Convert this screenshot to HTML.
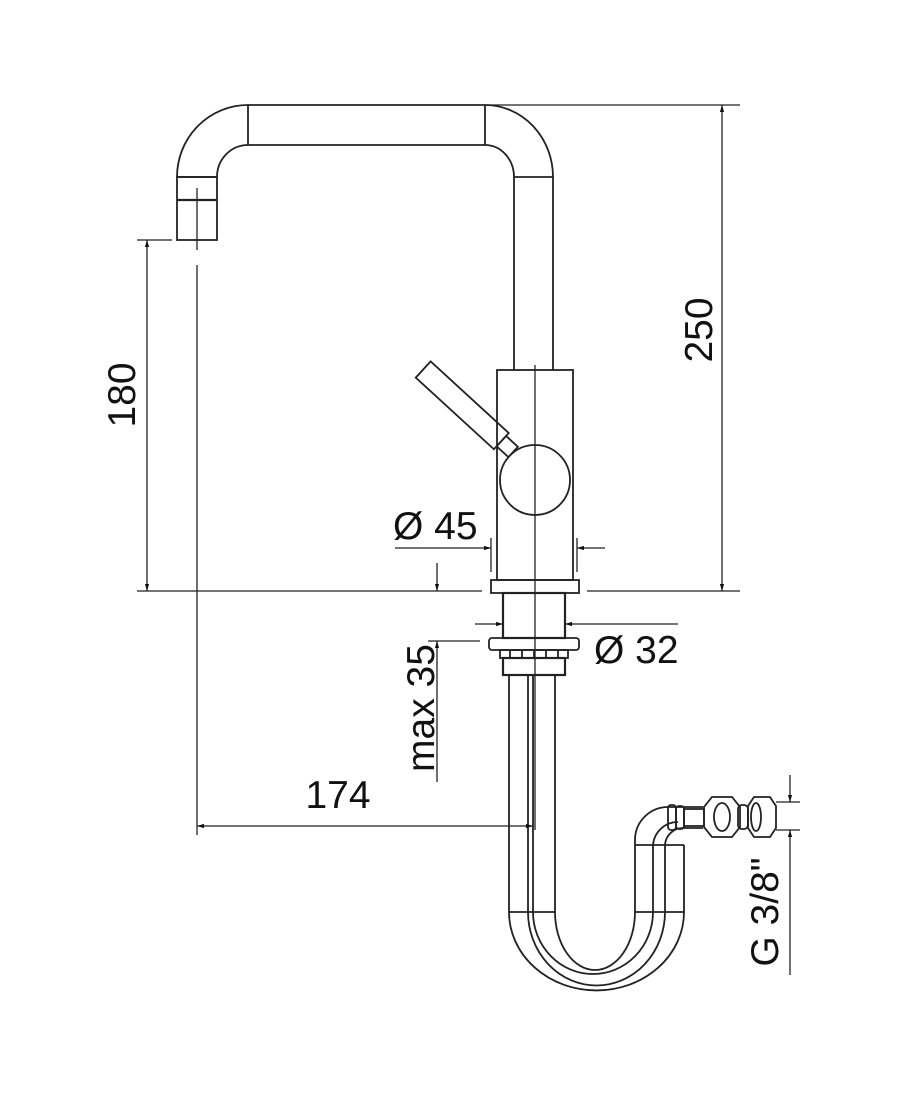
<!DOCTYPE html>
<html><head><meta charset="utf-8"><style>
html,body{margin:0;padding:0;background:#fff;}
svg{display:block}
text{font-family:"Liberation Sans",sans-serif;fill:#111}
</style></head><body>
<svg width="900" height="1100" viewBox="0 0 900 1100" xmlns="http://www.w3.org/2000/svg">
<defs>
<marker id="a" viewBox="0 0 10 10" refX="10" refY="5" markerWidth="9" markerHeight="7" orient="auto-start-reverse" markerUnits="userSpaceOnUse"><path d="M0,2 L10,5 L0,8 z" fill="#111"/></marker>
</defs>
<g fill="none" stroke="#222" stroke-width="1.8">
<path d="M177,177 A71,72 0 0 1 248,105 L485,105 A68,72 0 0 1 553,177 L553,370"/>
<path d="M217,177 A31,32 0 0 1 248,145 L485,145 A29,32 0 0 1 514,177 L514,370"/>
<line x1="248" y1="105" x2="248" y2="145"/>
<line x1="485" y1="105" x2="485" y2="145"/>
<line x1="177" y1="177" x2="217" y2="177"/>
<line x1="514" y1="177" x2="553" y2="177"/>
<rect x="177" y="177" width="40" height="63"/>
<line x1="177" y1="200" x2="217" y2="200" stroke-width="2.2"/>
<rect x="497" y="370" width="76" height="210"/>
<circle cx="535" cy="480" r="35"/>
<g transform="translate(463,406) rotate(42.5)">
<rect x="-54" y="-11" width="106" height="22"/>
<rect x="52" y="-7" width="16" height="14"/>
</g>
<rect x="491" y="580" width="88" height="13"/>
<rect x="503" y="593" width="62" height="45" stroke-width="2.2"/>
<rect x="489" y="638" width="90" height="12" rx="3"/>
<rect x="500" y="650" width="68" height="8"/>
<path d="M510,650v8M522,650v8M534,650v8M546,650v8M558,650v8"/>
<rect x="503" y="658" width="62" height="17" stroke-width="2.2"/>
<path d="M509,675 L509,912 A87,78 0 0 0 684,912 L684,845"/>
<path d="M528,675 L528,912 A68,73 0 0 0 665,912 L665,845"/>
<path d="M533,675 L533,912 A60,62 0 0 0 653,912 L653,845"/>
<path d="M555,675 L555,912 A40,58 0 0 0 635,912 L635,845"/>
<line x1="509" y1="912" x2="555" y2="912"/>
<line x1="635" y1="912" x2="684" y2="912"/>
<line x1="635" y1="845" x2="684" y2="845"/>
<path d="M635,845 L635,840 A33,33 0 0 1 668,807 L703,807"/>
<path d="M653,845 A25,25 0 0 1 678,822"/>
<path d="M665,845 A18,18 0 0 1 683,828 L703,828"/>
<rect x="668" y="805" width="8" height="25" rx="3"/>
<rect x="676" y="806" width="8" height="23" rx="3"/>
<rect x="684" y="809" width="20" height="17"/>
<path d="M704,807 L712,797 L732,797 L740,807 L740,827 L732,837 L712,837 L704,827 Z"/>
<ellipse cx="722" cy="817" rx="8" ry="14"/>
<rect x="738" y="805" width="10" height="24" rx="4"/>
<path d="M748,806 L754,797 L770,797 L776,806 L776,828 L770,837 L754,837 L748,828 Z"/>
<ellipse cx="756" cy="817" rx="5" ry="14"/>
</g>
<g fill="none" stroke="#222" stroke-width="1.3">
<line x1="535" y1="365" x2="535" y2="830"/>
<line x1="197" y1="188" x2="197" y2="250"/>
<line x1="197" y1="265" x2="197" y2="835"/>
<line x1="485" y1="105" x2="740" y2="105"/>
<line x1="137" y1="240" x2="172" y2="240"/>
<line x1="137" y1="591" x2="482" y2="591"/>
<line x1="587" y1="591" x2="740" y2="591"/>
<line x1="147" y1="240" x2="147" y2="591" marker-start="url(#a)" marker-end="url(#a)"/>
<line x1="722" y1="105" x2="722" y2="591" marker-start="url(#a)" marker-end="url(#a)"/>
<line x1="491" y1="538" x2="491" y2="572"/>
<line x1="577" y1="538" x2="577" y2="572"/>
<line x1="395" y1="548" x2="491" y2="548" marker-end="url(#a)"/>
<line x1="605" y1="548" x2="577" y2="548" marker-end="url(#a)"/>
<line x1="475" y1="624" x2="503" y2="624" marker-end="url(#a)"/>
<line x1="678" y1="624" x2="565" y2="624" marker-end="url(#a)"/>
<line x1="428" y1="641" x2="480" y2="641"/>
<line x1="437" y1="563" x2="437" y2="591" marker-end="url(#a)"/>
<line x1="437" y1="782" x2="437" y2="641" marker-end="url(#a)"/>
<line x1="197" y1="826" x2="533" y2="826" marker-start="url(#a)" marker-end="url(#a)"/>
<line x1="776" y1="802" x2="800" y2="802"/>
<line x1="776" y1="830" x2="800" y2="830"/>
<line x1="790" y1="775" x2="790" y2="802" marker-end="url(#a)"/>
<line x1="790" y1="975" x2="790" y2="830" marker-end="url(#a)"/>
</g>
<g font-size="39">
<text transform="translate(135,395) rotate(-90)" text-anchor="middle">180</text>
<text transform="translate(712,330) rotate(-90)" text-anchor="middle">250</text>
<text transform="translate(434,708) rotate(-90)" text-anchor="middle">max 35</text>
<text transform="translate(778,912) rotate(-90)" text-anchor="middle">G 3/8"</text>
<text x="393" y="539">Ø 45</text>
<text x="594" y="663">Ø 32</text>
<text x="338" y="808" text-anchor="middle">174</text>
</g>
</svg>
</body></html>
